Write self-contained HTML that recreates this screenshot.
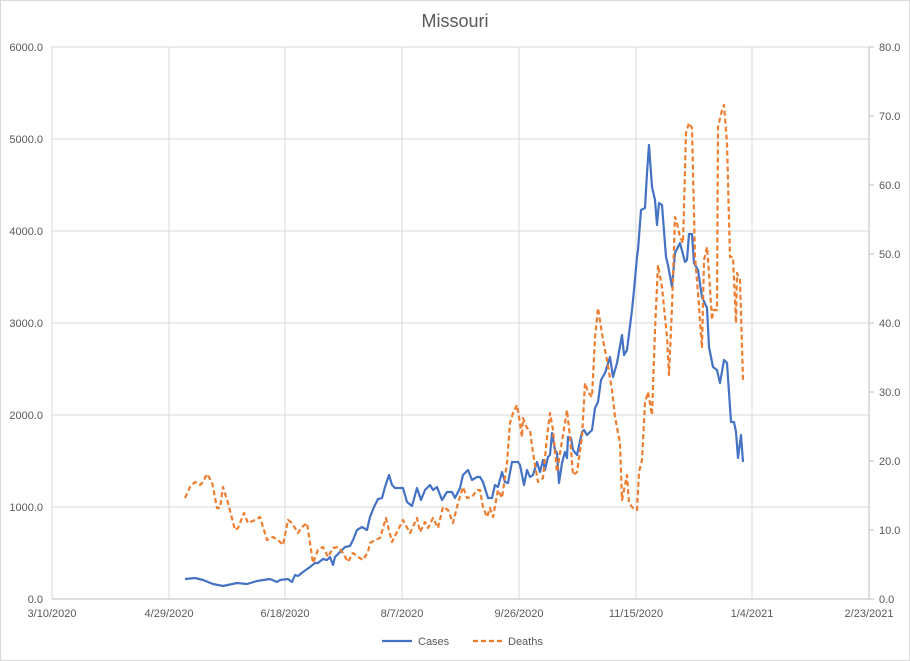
<!DOCTYPE html>
<html><head><meta charset="utf-8"><style>body{margin:0;background:#fff}svg{display:block;font-family:"Liberation Sans",sans-serif}</style></head><body>
<svg width="910" height="661" viewBox="0 0 910 661">
<rect x="0.5" y="0.5" width="909" height="660" fill="#fff" stroke="#d9d9d9"/>
<text x="455" y="27" font-size="18" fill="#595959" text-anchor="middle">Missouri</text>
<g stroke="#d9d9d9" stroke-width="1">
<line x1="52" y1="47" x2="869" y2="47"/><line x1="52" y1="139" x2="869" y2="139"/><line x1="52" y1="231" x2="869" y2="231"/><line x1="52" y1="323" x2="869" y2="323"/><line x1="52" y1="415" x2="869" y2="415"/><line x1="52" y1="507" x2="869" y2="507"/>
<line x1="52" y1="47" x2="52" y2="599"/><line x1="169" y1="47" x2="169" y2="599"/><line x1="285" y1="47" x2="285" y2="599"/><line x1="402" y1="47" x2="402" y2="599"/><line x1="519" y1="47" x2="519" y2="599"/><line x1="636" y1="47" x2="636" y2="599"/><line x1="752" y1="47" x2="752" y2="599"/>
</g>
<g stroke="#bfbfbf" stroke-width="1">
<line x1="52" y1="599" x2="869" y2="599"/>
<line x1="869" y1="47" x2="869" y2="599"/>
<line x1="869" y1="47" x2="874" y2="47"/><line x1="869" y1="116" x2="874" y2="116"/><line x1="869" y1="185" x2="874" y2="185"/><line x1="869" y1="254" x2="874" y2="254"/><line x1="869" y1="323" x2="874" y2="323"/><line x1="869" y1="392" x2="874" y2="392"/><line x1="869" y1="461" x2="874" y2="461"/><line x1="869" y1="530" x2="874" y2="530"/><line x1="869" y1="599" x2="874" y2="599"/>
</g>
<g font-size="11" fill="#595959" text-anchor="end">
<text x="43" y="51">6000.0</text><text x="43" y="143">5000.0</text><text x="43" y="235">4000.0</text><text x="43" y="327">3000.0</text><text x="43" y="419">2000.0</text><text x="43" y="511">1000.0</text><text x="43" y="603">0.0</text>
</g>
<g font-size="11" fill="#595959" text-anchor="start">
<text x="879" y="51">80.0</text><text x="879" y="120">70.0</text><text x="879" y="189">60.0</text><text x="879" y="258">50.0</text><text x="879" y="327">40.0</text><text x="879" y="396">30.0</text><text x="879" y="465">20.0</text><text x="879" y="534">10.0</text><text x="879" y="603">0.0</text>
</g>
<g font-size="11" fill="#595959" text-anchor="middle">
<text x="52" y="617">3/10/2020</text><text x="169" y="617">4/29/2020</text><text x="285" y="617">6/18/2020</text><text x="402" y="617">8/7/2020</text><text x="519" y="617">9/26/2020</text><text x="636" y="617">11/15/2020</text><text x="752" y="617">1/4/2021</text><text x="869" y="617">2/23/2021</text>
</g>
<polyline fill="none" stroke="#4472c4" stroke-width="2.2" stroke-linejoin="round" points="185,579 195,578 203,580 213,584 223,586 237,583 247,584 257,581 270,579 277,582 280,580 288,579 292,582 295,575 298,576 303,572 310,567 315,563 318,563 323,559 327,560 330,557 333,565 335,557 340,552 345,547 350,546 353,540 357,530 362,527 367,530 370,517 374,507 378,499 382,498 385,487 389,475 392,485 395,488 403,488 407,502 412,506 417,488 421,500 425,490 430,485 433,490 437,487 442,500 447,492 452,492 455,498 460,488 463,475 468,470 472,480 477,477 480,477 483,482 488,498 492,498 495,485 498,487 502,472 505,482 508,483 512,462 518,462 520,465 524,485 527,470 530,477 533,475 537,462 540,472 543,460 545,470 548,457 550,455 552,433 555,450 557,453 559,483 562,463 565,452 567,458 568,437 571,438 573,450 577,455 582,432 584,430 587,435 592,430 595,408 598,402 601,380 605,373 610,357 613,377 617,363 622,335 624,355 627,350 632,310 634,290 637,257 638,250 641,210 645,208 647,173 649,145 652,187 655,200 657,225 659,203 662,205 666,257 668,265 672,287 675,253 680,243 685,262 687,260 689,234 692,234 694,263 698,270 702,297 707,308 709,347 713,367 717,370 720,383 724,360 727,363 731,422 734,422 736,432 738,458 741,435 743,462"/>
<polyline fill="none" stroke="#ed7d31" stroke-width="2.2" stroke-dasharray="5,3" stroke-linejoin="round" points="185,498 190,487 195,482 200,485 203,482 207,474 212,482 217,508 220,508 223,487 228,503 235,530 238,528 244,513 248,523 255,520 260,517 267,540 273,537 278,540 283,545 288,520 292,523 298,533 302,527 307,523 313,563 318,550 323,547 328,557 333,548 338,547 343,553 348,562 353,553 358,557 363,560 368,552 370,543 375,540 380,538 386,518 392,542 397,532 403,520 410,533 417,518 420,532 425,522 428,528 433,518 438,528 443,507 448,510 453,523 458,503 463,487 467,498 472,497 477,490 480,490 483,507 487,517 490,508 493,517 498,490 502,498 507,463 510,423 513,413 517,405 520,423 522,437 523,418 527,428 530,430 533,453 538,482 543,478 547,437 550,413 553,430 557,472 560,453 565,423 567,410 570,437 573,475 577,472 582,437 585,383 588,392 592,397 595,338 598,308 603,340 607,360 612,390 615,417 620,443 622,500 627,475 629,503 633,508 637,510 639,472 642,460 645,403 648,392 652,415 655,330 658,265 662,287 667,337 669,375 672,307 675,217 677,223 680,237 683,243 686,133 689,123 692,128 695,257 698,293 702,348 704,260 707,247 709,273 712,320 713,310 717,310 718,127 722,110 724,105 727,143 730,257 733,257 736,323 737,273 740,280 743,380"/>
<line x1="382" y1="641" x2="412" y2="641" stroke="#4472c4" stroke-width="2.2"/>
<text x="418" y="645" font-size="11" fill="#595959">Cases</text>
<line x1="473" y1="641" x2="503" y2="641" stroke="#ed7d31" stroke-width="2.2" stroke-dasharray="5,3"/>
<text x="508" y="645" font-size="11" fill="#595959">Deaths</text>
</svg>
</body></html>
